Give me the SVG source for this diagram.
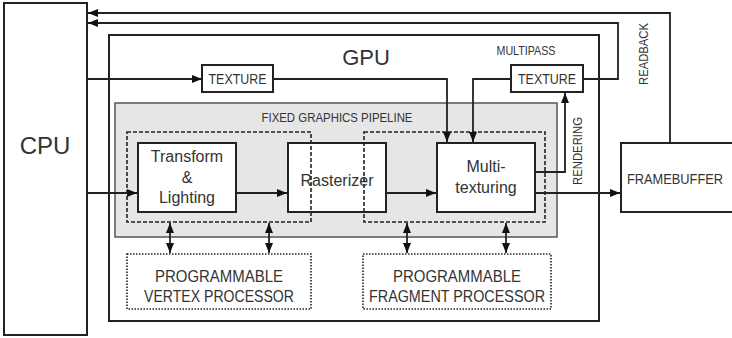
<svg xmlns="http://www.w3.org/2000/svg" width="732" height="338" viewBox="0 0 732 338">
<style>
.box{fill:#fff;stroke:#222;stroke-width:2}
.frame{fill:none;stroke:#222;stroke-width:2}
.grey{fill:#e6e6e6;stroke:#555;stroke-width:1.5}
.dash{fill:none;stroke:#222;stroke-width:1.6;stroke-dasharray:4 2}
.dot{fill:#fff;stroke:#222;stroke-width:1.6;stroke-dasharray:1.5 1.5}
.ln{fill:none;stroke:#222;stroke-width:1.8}
text{font-family:"Liberation Sans",Arial,sans-serif;fill:#333}
.big{font-size:24px;text-anchor:middle}
.mid{font-size:16px;text-anchor:middle}
.cap{font-size:16.5px;text-anchor:middle}
.sm{font-size:12px;text-anchor:middle}
.tx{font-size:15px;text-anchor:middle}
</style>
<defs>
<marker id="ah" viewBox="0 0 10 8" refX="10" refY="4" markerWidth="10" markerHeight="8" markerUnits="userSpaceOnUse" orient="auto-start-reverse">
<path d="M0,0 L10,4 L0,8 Z" fill="#111"/>
</marker>
</defs>

<g id="cpu">
<rect class="box" x="4" y="3" width="83" height="332"/>
<text class="big" x="45" y="154">CPU</text>
</g>

<g id="gpu">
<rect class="frame" x="109" y="35" width="490" height="286"/>
<text x="366" y="65" font-size="22" text-anchor="middle">GPU</text>
</g>

<g id="pipeline">
<rect class="grey" x="115" y="103" width="442" height="134"/>
<text class="sm" x="337" y="122" textLength="151" lengthAdjust="spacingAndGlyphs">FIXED GRAPHICS PIPELINE</text>
</g>

<g id="texture">
<rect class="box" x="202" y="65" width="71" height="27"/>
<text class="tx" x="237.5" y="84" textLength="58" lengthAdjust="spacingAndGlyphs">TEXTURE</text>
</g>

<g id="multipass-texture">
<text class="sm" x="526" y="55" textLength="59" lengthAdjust="spacingAndGlyphs">MULTIPASS</text>
<rect class="box" x="511" y="65" width="72" height="27"/>
<text class="tx" x="547" y="84" textLength="58" lengthAdjust="spacingAndGlyphs">TEXTURE</text>
</g>

<g id="transform-lighting">
<rect class="box" x="138" y="143" width="98" height="69"/>
<text class="mid" x="187" y="162">Transform</text>
<text class="mid" x="187" y="183">&amp;</text>
<text class="mid" x="187" y="203">Lighting</text>
</g>

<g id="rasterizer">
<rect class="box" x="288" y="143" width="98" height="69"/>
<text class="mid" x="337" y="186">Rasterizer</text>
</g>

<g id="multitexturing">
<rect class="box" x="437" y="143" width="98" height="69"/>
<text class="mid" x="486" y="172">Multi-</text>
<text class="mid" x="486" y="193">texturing</text>
</g>

<g id="vertex-stage">
<rect class="dash" x="127" y="132" width="184" height="90"/>
</g>

<g id="fragment-stage">
<rect class="dash" x="364" y="132" width="181" height="90"/>
</g>

<g id="framebuffer">
<rect class="box" x="621" y="143" width="120" height="69"/>
<text x="627" y="184" font-size="15" textLength="96" lengthAdjust="spacingAndGlyphs">FRAMEBUFFER</text>
</g>

<g id="vertex-processor">
<rect class="dot" x="127" y="254" width="184" height="55"/>
<text class="cap" x="219" y="282" textLength="128" lengthAdjust="spacingAndGlyphs">PROGRAMMABLE</text>
<text class="cap" x="219" y="302" textLength="150" lengthAdjust="spacingAndGlyphs">VERTEX PROCESSOR</text>
</g>

<g id="fragment-processor">
<rect class="dot" x="363" y="254" width="188" height="55"/>
<text class="cap" x="457" y="282" textLength="128" lengthAdjust="spacingAndGlyphs">PROGRAMMABLE</text>
<text class="cap" x="457" y="302" textLength="176" lengthAdjust="spacingAndGlyphs">FRAGMENT PROCESSOR</text>
</g>

<g id="labels">
<text class="sm" transform="translate(582,151) rotate(-90)" textLength="68" lengthAdjust="spacingAndGlyphs">RENDERING</text>
<text class="sm" transform="translate(648,54) rotate(-90)" textLength="62" lengthAdjust="spacingAndGlyphs">READBACK</text>
</g>

<g id="connectors">
<path class="ln" d="M670,143 V13 H88" marker-end="url(#ah)"/>
<path class="ln" d="M583,79 H618 V23 H88" marker-end="url(#ah)"/>
<path class="ln" d="M87,79 H202" marker-end="url(#ah)"/>
<path class="ln" d="M273,79 H447 V142" marker-end="url(#ah)"/>
<path class="ln" d="M511,79 H473 V142" marker-end="url(#ah)"/>
<path class="ln" d="M535,172 H565 V93" marker-end="url(#ah)"/>
<path class="ln" d="M87,193 H137" marker-end="url(#ah)"/>
<path class="ln" d="M236,193 H287" marker-end="url(#ah)"/>
<path class="ln" d="M386,193 H436" marker-end="url(#ah)"/>
<path class="ln" d="M535,193 H620" marker-end="url(#ah)"/>
<path class="ln" d="M170,223 V253" marker-start="url(#ah)" marker-end="url(#ah)"/>
<path class="ln" d="M269,223 V253" marker-start="url(#ah)" marker-end="url(#ah)"/>
<path class="ln" d="M407,223 V253" marker-start="url(#ah)" marker-end="url(#ah)"/>
<path class="ln" d="M506,223 V253" marker-start="url(#ah)" marker-end="url(#ah)"/>
</g>
</svg>
